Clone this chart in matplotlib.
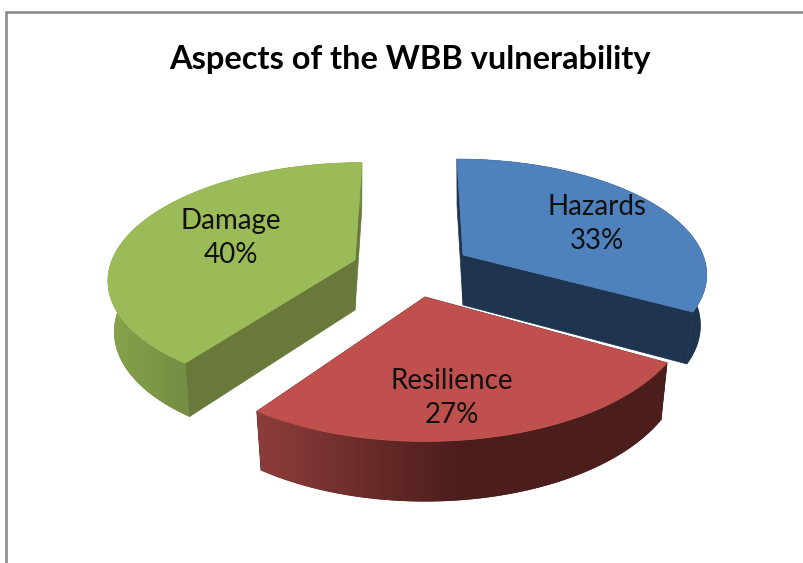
import numpy as np
import matplotlib
matplotlib.use("Agg")
from matplotlib import pyplot as plt
from matplotlib.colors import LinearSegmentedColormap
from matplotlib.patches import Polygon

title = "Aspects of the WBB vulnerability"
names = ["Hazards", "Resilience", "Damage"]
values = [33, 27, 40]

# per slice layout, in pixels: apex, radii, shear, perspective, depth
apex = {"Hazards": (463, 255), "Resilience": (425, 297), "Damage": (355, 260)}
shape = {"Hazards": (240, -7, 110, 0.146), "Resilience": (263, 0, 130, 0.10), "Damage": (243, 8, 112, 0.15)}
depth = {"Hazards": 50, "Resilience": 55, "Damage": 50}
top_col = {"Hazards": "#4f81bd", "Resilience": "#bf504d", "Damage": "#9bbb59"}
side_col = {"Hazards": "#1f344e", "Resilience": "#4b1d1b", "Damage": "#68793a"}
rim_col = {
    "Hazards": ["#1f344e", "#1f344e"],
    "Resilience": ["#8d3d3a", "#4b1d1b", "#4b1d1b"],
    "Damage": ["#86a34c", "#728c42"],
}
rim_span = {"Hazards": (460, 710), "Resilience": (257, 667), "Damage": (108, 195)}
label_pos = {"Hazards": (597, 224), "Resilience": (452, 398), "Damage": (231, 238)}


def project(name, theta, bottom=False):
    u, v = np.sin(theta), np.cos(theta)
    a, b, c, k = shape[name]
    w = 1 + k * v
    dx, dy = (a * u + b * v) / w, -c * v / w
    x0, y0 = apex[name]
    if bottom:
        return np.column_stack([x0 + 0.975 * dx, y0 + depth[name] + 1.035 * dy])
    return np.column_stack([x0 + dx, y0 + dy])


fig = plt.figure(figsize=(8.04, 5.63), dpi=100)
ax = fig.add_axes([0, 0, 1, 1])

edges = 2 * np.pi * np.cumsum([0] + values) / sum(values)
slices = {n: (edges[i], edges[i + 1]) for i, n in enumerate(names)}

# back slices first, resilience sits in front of the hazards one
for name in ["Hazards", "Damage", "Resilience"]:
    t0, t1 = slices[name]
    arc = np.linspace(t0, t1, 120)
    top = project(name, arc)
    low = project(name, arc, bottom=True)
    x0, y0 = apex[name]
    top_apex = [[x0, y0]]
    low_apex = [[x0, y0 + depth[name]]]

    for i in [0, -1]:
        face = np.vstack([top_apex, top[[i]], low[[i]], low_apex])
        ax.add_patch(Polygon(face, closed=True, fc=side_col[name], ec=side_col[name], lw=0.5, zorder=2))

    rim = np.vstack([top, low[::-1]])
    # flat fill under the gradient so the clipped edge leaves no light seam
    ax.add_patch(Polygon(rim, closed=True, fc=rim_col[name][-1], ec="none", zorder=2.5))
    poly = Polygon(rim, closed=True, fc="none", ec="none", zorder=3)
    ax.add_patch(poly)
    cmap = LinearSegmentedColormap.from_list(name, rim_col[name])
    span = rim_span[name]
    # colours hold past the end of the span
    grad = np.clip((np.arange(804) - span[0]) / (span[1] - span[0]), 0, 1)[None, :]
    im = ax.imshow(grad, cmap=cmap, vmin=0, vmax=1, aspect="auto", extent=(0, 804, 563, 0), zorder=3)
    im.set_clip_path(poly)

    ax.add_patch(Polygon(np.vstack([top_apex, top]), closed=True, fc=top_col[name], ec=top_col[name], lw=0.5, zorder=4))
    ax.text(label_pos[name][0], label_pos[name][1], "%s\n%d%%" % (name, values[names.index(name)]),
            family="Lato", fontsize=20, color="#111111", ha="center", va="center",
            linespacing=1.35, zorder=5)

# chart frame, only the top and left show in the crop
ax.plot([6, 6, 804], [563, 12, 12], color="#8c8c8c", lw=1.9, solid_joinstyle="miter", zorder=1)

ax.text(410, 60, title, family="Lato", fontweight="bold", fontsize=23.4, color="black", ha="center", va="center")

ax.set_xlim(0, 804)
ax.set_ylim(563, 0)
ax.axis("off")
fig.savefig("out.png", dpi=100)
